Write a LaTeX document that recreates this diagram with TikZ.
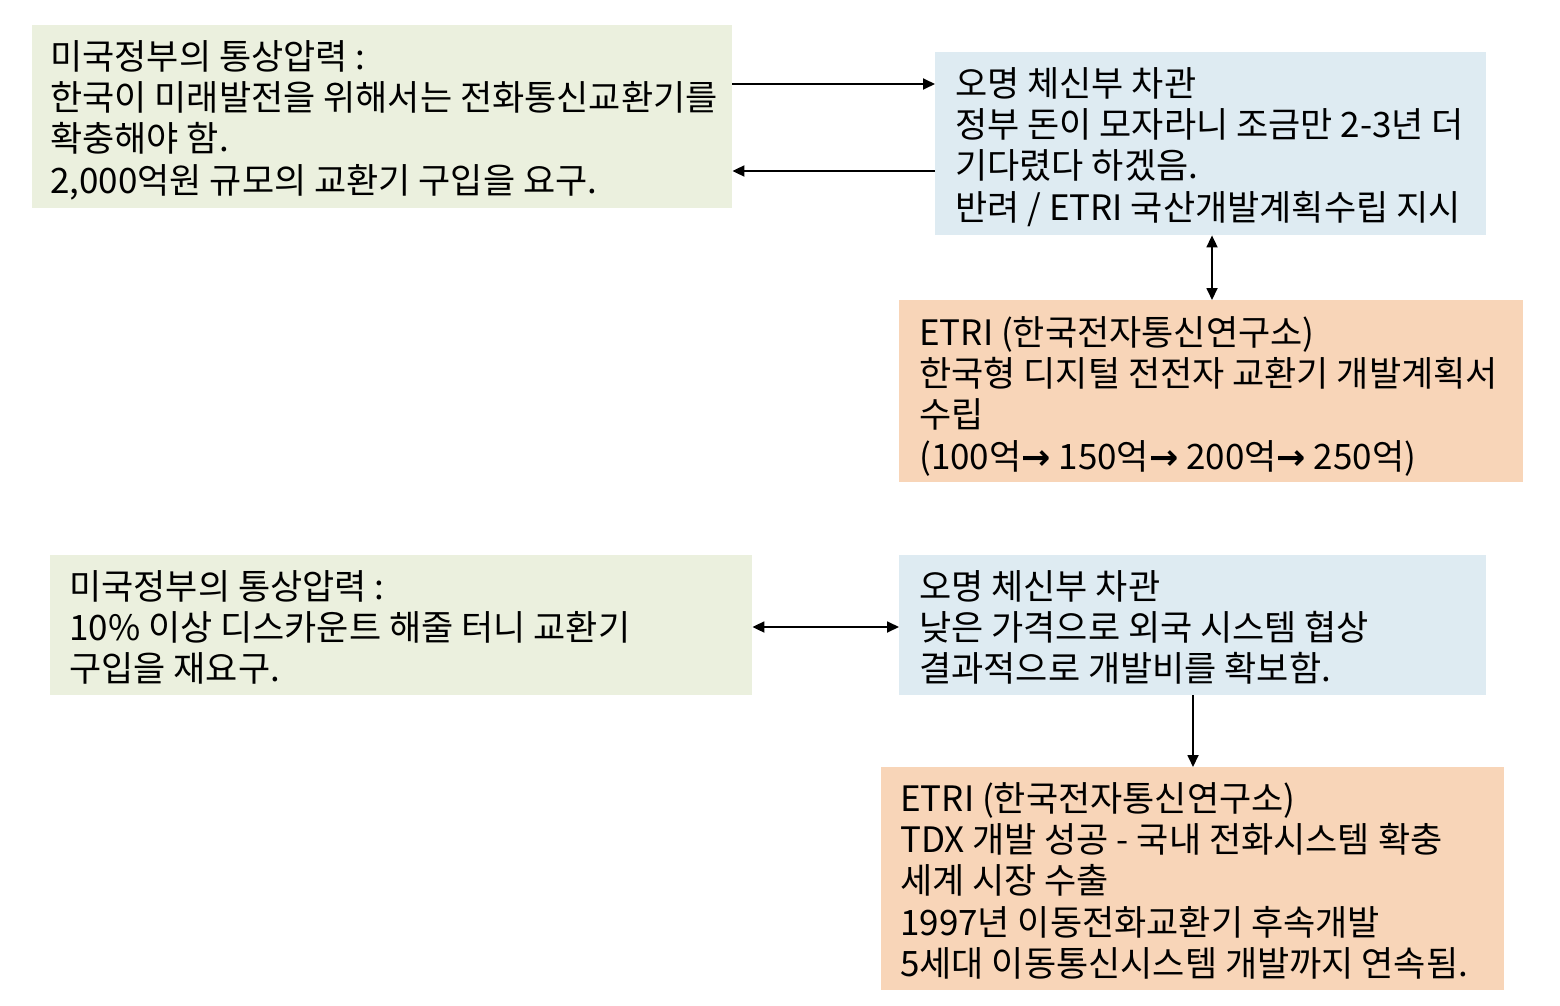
\documentclass[tikz,border=0pt]{standalone}
\usepackage{fontspec}
\setmainfont{Noto Sans CJK KR}
\newfontfamily\arrowfont{DejaVu Sans}
\usetikzlibrary{arrows.meta}
\definecolor{boxgreen}{HTML}{EBF0DE}
\definecolor{boxblue}{HTML}{DEEBF2}
\definecolor{boxorange}{HTML}{F8D5B8}
\tikzset{
  box/.style={fill=#1, draw=none, inner sep=0pt, anchor=north west},
  txt/.style={inner sep=0pt, anchor=north west, align=left,
    font=\fontsize{35}{41.3}\selectfont},
  conn/.style={line width=1.8pt, -{Triangle[length=12pt,width=11pt]}},
  dconn/.style={line width=1.8pt, {Triangle[length=12pt,width=11pt]}-{Triangle[length=12pt,width=11pt]}},
}
\newcommand{\fl}{\rule{0pt}{34pt}}
\newcommand{\tarrow}{{\arrowfont\bfseries →}}
\begin{document}
\begin{tikzpicture}[x=1pt,y=-1pt]
\useasboundingbox (0,0) rectangle (1560,1006);
% boxes
\node[box=boxgreen, minimum width=700pt, minimum height=183pt] (b1) at (32,25) {};
\node[box=boxblue, minimum width=551pt, minimum height=183pt] (b2) at (935,52) {};
\node[box=boxorange, minimum width=624pt, minimum height=182pt] (b3) at (899,300) {};
\node[box=boxgreen, minimum width=702pt, minimum height=140pt] (b4) at (50,555) {};
\node[box=boxblue, minimum width=587pt, minimum height=140pt] (b5) at (899,555) {};
\node[box=boxorange, minimum width=623pt, minimum height=223pt] (b6) at (881,767) {};
% texts
\node[txt] (t1) at (50,35) {\fl 미국정부의 통상압력 :\\ 한국이 미래발전을 위해서는 전화통신교환기를\\ 확충해야 함.\\ 2,000억원 규모의 교환기 구입을 요구.};
\node[txt] (t2) at (955,62) {\fl 오명 체신부 차관\\ 정부 돈이 모자라니 조금만 2-3년 더\\ 기다렸다 하겠음.\\ 반려 / ETRI 국산개발계획수립 지시};
\node[txt] (t3) at (919,311) {\fl ETRI (한국전자통신연구소)\\ 한국형 디지털 전전자 교환기 개발계획서\\ 수립\\ (100억\tarrow{} 150억\tarrow{} 200억\tarrow{} 250억)};
\node[txt] (t4) at (69,565) {\fl 미국정부의 통상압력 :\\ 10\% 이상 디스카운트 해줄 터니 교환기\\ 구입을 재요구.};
\node[txt] (t5) at (919,565) {\fl 오명 체신부 차관\\ 낮은 가격으로 외국 시스템 협상\\ 결과적으로 개발비를 확보함.};
\node[txt] (t6) at (900,777) {\fl ETRI (한국전자통신연구소)\\ TDX 개발 성공 - 국내 전화시스템 확충\\ 세계 시장 수출\\ 1997년 이동전화교환기 후속개발\\ 5세대 이동통신시스템 개발까지 연속됨.};
% connectors
\draw[conn] (b1.east |- 0,84) -- (b2.west |- 0,84);
\draw[conn] (b2.west |- 0,171) -- (b1.east |- 0,171);
\draw[dconn] (b2.south -| 1212,0) -- (b3.north -| 1212,0);
\draw[dconn] (b4.east |- 0,627) -- (b5.west |- 0,627);
\draw[conn] (b5.south -| 1193,0) -- (b6.north -| 1193,0);
\end{tikzpicture}
\end{document}
